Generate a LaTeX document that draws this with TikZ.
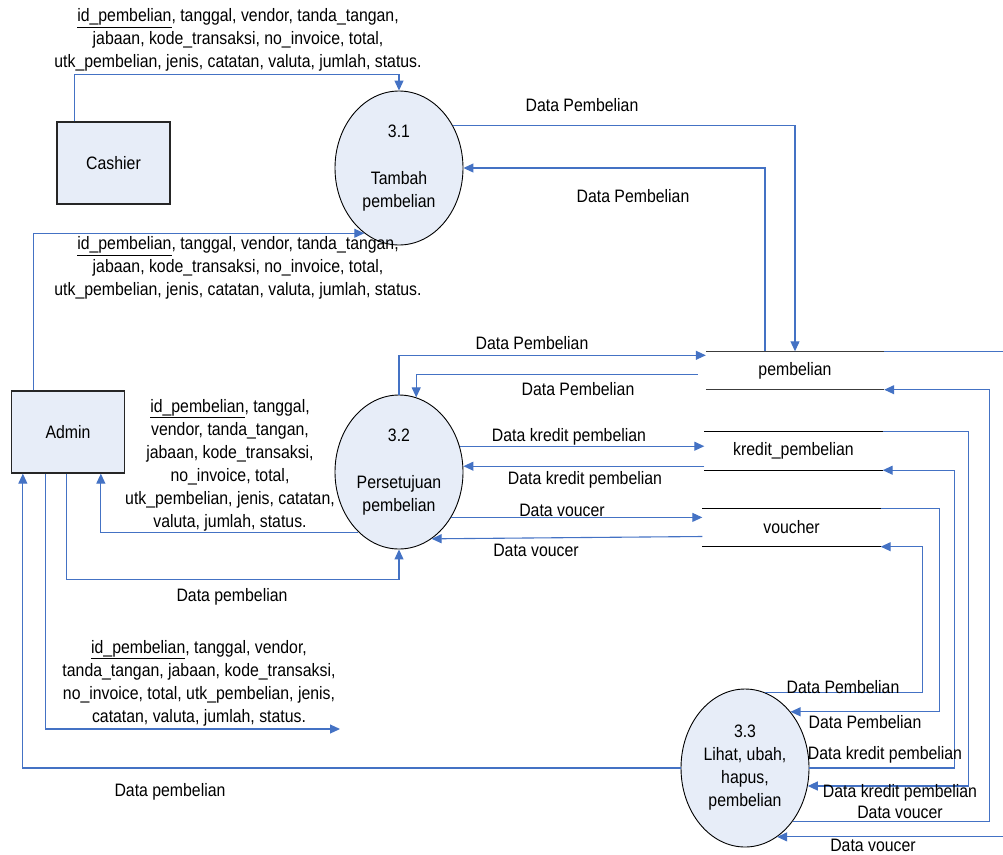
\documentclass[tikz,border=0pt]{standalone}
\usepackage{fontspec}
\setmainfont{Liberation Sans}[FakeStretch=0.88]
\usetikzlibrary{shapes.geometric, arrows.meta, positioning, calc}
\definecolor{flowblue}{RGB}{68, 114, 196}
\definecolor{procfill}{RGB}{231, 237, 248}
\definecolor{storegray}{RGB}{60, 60, 60}

\begin{document}
\begin{tikzpicture}[x=1pt, y=-1pt,
  every node/.style={font=\fontsize{18}{23}\selectfont},
  proc/.style={ellipse, draw=black, line width=0.9pt, fill=procfill, inner sep=0pt,
    minimum width=128pt, minimum height=154pt, align=center},
  ent/.style={rectangle, draw=black!85, line width=1.3pt, fill=procfill,
    minimum width=113pt, minimum height=82pt},
  store/.style={minimum width=178pt, minimum height=38pt, inner sep=0pt},
  flow/.style={flowblue, line width=1.1pt, -{Triangle[length=10pt, width=9pt]}},
  lbl/.style={align=center}]
  \useasboundingbox (0,0) rectangle (1003,854);
  \clip (0,0) rectangle (1003,854);

  % Entities
  \node[ent] (cashier) at (113.5,163) {Cashier};
  \node[ent] (admin) at (68,432) {Admin};

  % Processes
  \node[proc] (p31) at (399,168) {3.1\\[24pt]Tambah\\pembelian};
  \node[proc] (p32) at (399,472) {3.2\\[24pt]Persetujuan\\pembelian};
  \node[proc, minimum height=158pt] (p33) at (745,768) {3.3\\Lihat, ubah,\\hapus,\\pembelian};

  % Data stores
  \node[store] (sPemb) at (795,370.5) {pembelian};
  \node[store] (sKred) at (793.5,451) {kredit\_pembelian};
  \node[store] (sVouc) at (791.5,527.5) {voucher};
  \draw[storegray, line width=1.3pt] (sPemb.north west) -- (sPemb.north east)
    (sPemb.south west) -- (sPemb.south east);
  \draw[black, line width=1.1pt] (sKred.north west) -- (sKred.north east)
    (sKred.south west) -- (sKred.south east);
  \draw[black, line width=1.1pt] (sVouc.north west) -- (sVouc.north east)
    (sVouc.south west) -- (sVouc.south east);

  % Into 3.1
  \draw[flow] ([xshift=18pt]cashier.north west) |- ([yshift=16pt]p31.north) -- (p31.north);
  \draw[flow] ([xshift=23pt]admin.north west) |- (p31.242);
  \node[lbl] (tCash) at (238,40) {\underline{id\_pembelian}, tanggal, vendor, tanda\_tangan,\\
    jabaan, kode\_transaksi, no\_invoice, total,\\
    utk\_pembelian, jenis, catatan, valuta, jumlah, status.};
  \node[lbl] (tAdm31) at (238,268) {\underline{id\_pembelian}, tanggal, vendor, tanda\_tangan,\\
    jabaan, kode\_transaksi, no\_invoice, total,\\
    utk\_pembelian, jenis, catatan, valuta, jumlah, status.};

  % 3.1 and pembelian
  \draw[flow] (p31.38) -| (sPemb.north);
  \draw[flow] ([xshift=-30pt]sPemb.north) |- (p31.east);
  \node[lbl] (t31a) at (582,105) {Data Pembelian};
  \node[lbl] (t31b) at (633,196) {Data Pembelian};

  % 3.2 and data stores
  \draw[flow] (p32.north) |- ([yshift=-4pt]sPemb.north west);
  \draw[flow] ([xshift=-8pt, yshift=-4pt]sPemb.west) -| (p32.77);
  \draw[flow] (p32.23) -- (p32.23 -| sKred.west);
  \coordinate (kredBack) at ([yshift=4pt]sKred.south west);
  \draw[flow] (kredBack) -- (kredBack -| p32.east);
  \draw[flow] (p32.-41) -- (p32.-41 -| sVouc.west);
  \draw[flow] ([yshift=-9pt]sVouc.west) -- (p32.-64);
  \node[lbl] (t32a) at (532,343) {Data Pembelian};
  \node[lbl] (t32b) at (578,389) {Data Pembelian};
  \node[lbl] (t32c) at (569,437) {Data kredit pembelian};
  \node[lbl] (t32d) at (585,480) {Data kredit pembelian};
  \node[lbl] (t32e) at (562,510) {Data voucer};
  \node[lbl] (t32f) at (536,550) {Data voucer};

  % Admin and 3.2
  \draw[flow] (p32.236) -| ([xshift=90pt]admin.south west);
  \draw[flow] ([xshift=56pt]admin.south west) |- ([yshift=-30pt]p32.south) -- (p32.south);
  \node[lbl] (t32g) at (230,465) {\underline{id\_pembelian}, tanggal,\\vendor, tanda\_tangan,\\
    jabaan, kode\_transaksi,\\no\_invoice, total,\\utk\_pembelian, jenis, catatan,\\
    valuta, jumlah, status.};
  \node[lbl] (t32h) at (232,597) {Data pembelian};

  % Admin output
  \coordinate (adminOut) at (340,729);
  \draw[flow] ([xshift=35pt]admin.south west) |- (adminOut);
  \node[lbl] (tOut) at (199,683) {\underline{id\_pembelian}, tanggal, vendor,\\
    tanda\_tangan, jabaan, kode\_transaksi,\\no\_invoice, total, utk\_pembelian, jenis,\\
    catatan, valuta, jumlah, status.};

  % 3.3 and Admin
  \draw[flow] (p33.west) -| ([xshift=12pt]admin.south west);
  \node[lbl] (t33a) at (170,792) {Data pembelian};

  % 3.3 and data stores
  \draw[flow] (sPemb.north east) -- ++(125,0) |- (p33.-65);
  \draw[flow] (p33.-48) -| ([xshift=105pt]sPemb.south east) -- (sPemb.south east);
  \draw[flow] (sKred.north east) -- ++(86,0) |- (p33.-16);
  \draw[flow] (p33.east) -| ([xshift=72pt]sKred.south east) -- (sKred.south east);
  \draw[flow] (sVouc.north east) -- ++(59,0) |- (p33.51);
  \draw[flow] (p33.75) -| ([xshift=42pt]sVouc.south east) -- (sVouc.south east);
  \node[lbl] (t33b) at (843,687) {Data Pembelian};
  \node[lbl] (t33c) at (865,722) {Data Pembelian};
  \node[lbl] (t33d) at (885,755) {Data kredit pembelian};
  \node[lbl] (t33e) at (900,793) {Data kredit pembelian};
  \node[lbl] (t33f) at (900,812) {Data voucer};
  \node[lbl] (t33g) at (873,845) {Data voucer};
\end{tikzpicture}
\end{document}
